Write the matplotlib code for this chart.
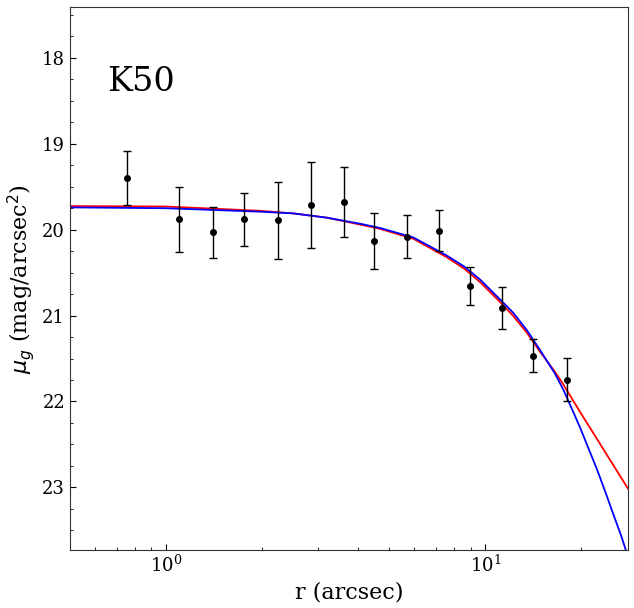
import matplotlib
matplotlib.use('Agg')
import matplotlib.pyplot as plt
from matplotlib.ticker import MultipleLocator

plt.rcParams['font.family'] = 'DejaVu Serif'

# datos observados: radio (arcsec), brillo superficial y error
r_obs = [0.753, 1.098, 1.406, 1.755, 2.247, 2.85, 3.61, 4.48, 5.70, 7.18, 8.98, 11.3, 14.1, 18.0]
mu_obs = [19.40, 19.88, 20.03, 19.88, 19.89, 19.71, 19.68, 20.13, 20.08, 20.01, 20.66, 20.91, 21.465, 21.745]
mu_err = [0.315, 0.377, 0.30, 0.31, 0.45, 0.50, 0.41, 0.33, 0.25, 0.24, 0.22, 0.245, 0.19, 0.25]

# curva roja
r_red = [0.5, 1.0, 1.97, 2.5, 3.19, 4.05, 4.68, 5.95, 7.57, 8.6, 9.63, 11.11, 12.24, 13.5, 14.84,
         16.53, 17.55, 19.80, 22.33, 25.17, 28.0]
mu_red = [19.725, 19.73, 19.78, 19.81, 19.86, 19.94, 19.99, 20.105, 20.32, 20.455, 20.61, 20.84, 21.005,
          21.2, 21.42, 21.655, 21.80, 22.12, 22.43, 22.74, 23.015]

# curva azul
r_blue = [0.5, 1.0, 1.97, 2.5, 3.19, 4.05, 4.68, 5.95, 7.57, 8.6, 9.63, 11.11, 12.24, 13.5, 14.84,
          16.53, 17.55, 18.65, 19.80, 21.02, 22.33, 23.71, 25.17, 26.75, 28.0]
mu_blue = [19.74, 19.75, 19.79, 19.81, 19.86, 19.93, 19.98, 20.09, 20.30, 20.43, 20.58, 20.81, 20.968,
           21.17, 21.40, 21.675, 21.86, 22.08, 22.30, 22.54, 22.78, 23.04, 23.31, 23.58, 23.81]

fig = plt.figure(figsize=(6.34, 6.08), dpi=100)
ax = fig.add_axes([0.1104, 0.0954, 0.8801, 0.8926])

ax.plot(r_red, mu_red, color='red', lw=1.3)
ax.plot(r_blue, mu_blue, color='blue', lw=1.3)
ax.errorbar(r_obs, mu_obs, yerr=mu_err, fmt='o', color='black', ms=4, capsize=3, elinewidth=1, lw=1)

ax.set_xscale('log')
ax.set_xlim(0.5, 28.0)
ax.set_ylim(23.73, 17.41)
ax.yaxis.set_major_locator(MultipleLocator(1))
ax.yaxis.set_minor_locator(MultipleLocator(0.25))
ax.tick_params(which='both', direction='in', labelsize=13)
ax.tick_params(which='major', length=4)
ax.tick_params(which='minor', length=2)

ax.set_xlabel('r (arcsec)', fontsize=16)
ax.set_ylabel(r'$\mu_g$ (mag/arcsec$^2$)', fontsize=16)
ax.text(0.066, 0.862, 'K50', transform=ax.transAxes, fontsize=24, va='center')

for s in ax.spines.values():
    s.set_color('#333333')

plt.savefig('out.png', dpi=100)
plt.close()
